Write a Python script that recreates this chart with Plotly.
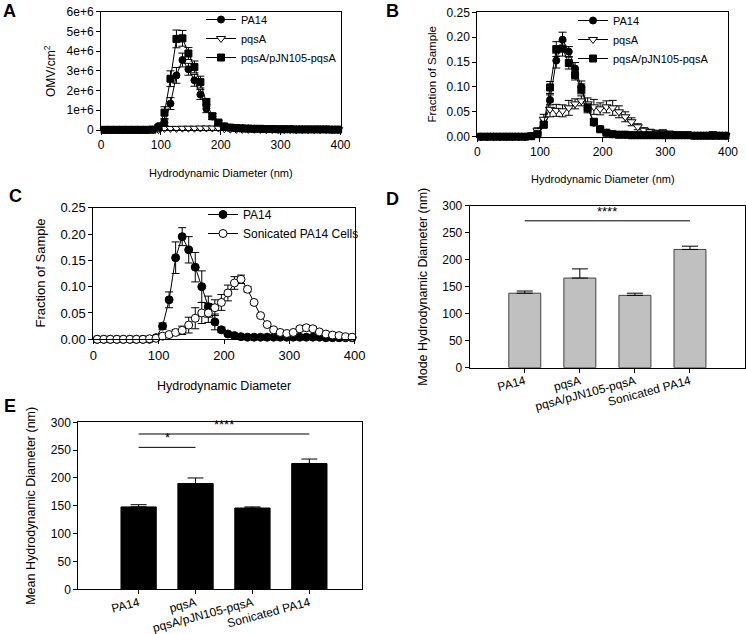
import plotly.graph_objects as go

W, H = 746, 634
FONT = "Liberation Sans, Arial, sans-serif"

# ---------------- data ----------------
diam = [6, 16, 26, 36, 46, 56, 66, 76, 86, 96,
        106, 116, 126, 136, 146, 156, 166, 176, 186, 196,
        206, 216, 226, 236, 246, 256, 266, 276, 286, 296,
        306, 316, 326, 336, 346, 356, 366, 376, 386, 396]

# Panel A (OMV/cm^2)
a_pa14 = [0, 0, 0, 0, 0, 0, 0, 0, 0.02e6, 0.2e6,
          0.37e6, 1.34e6, 2.77e6, 3.55e6, 3.08e6, 2.52e6, 1.8e6, 1.08e6, 0.68e6, 0.35e6,
          0.18e6, 0.12e6, 0.1e6, 0.09e6, 0.08e6, 0.07e6, 0.06e6, 0.05e6, 0.05e6, 0.04e6,
          0.04e6, 0.04e6, 0.03e6, 0.03e6, 0.03e6, 0.03e6, 0.03e6, 0.03e6, 0.02e6, 0.02e6]
a_pa14_err = [0, 0, 0, 0, 0, 0, 0, 0, 0, 0.05e6,
              0.15e6, 0.3e6, 0.4e6, 0.35e6, 0.3e6, 0.3e6, 0.25e6, 0.2e6, 0.15e6, 0.1e6,
              0.05e6, 0.03e6, 0.02e6, 0.02e6, 0.02e6, 0.02e6, 0.02e6, 0.01e6, 0.01e6, 0.01e6,
              0.01e6, 0.01e6, 0.01e6, 0.01e6, 0.01e6, 0.01e6, 0.01e6, 0.01e6, 0.01e6, 0.01e6]
a_pqsa = [0, 0, 0, 0, 0, 0, 0, 0, 0, 0.02e6,
          0.08e6, 0.08e6, 0.08e6, 0.09e6, 0.09e6, 0.09e6, 0.1e6, 0.1e6, 0.1e6, 0.1e6,
          0.06e6, 0.04e6, 0.03e6, 0.03e6, 0.03e6, 0.03e6, 0.03e6, 0.02e6, 0.02e6, 0.02e6,
          0.02e6, 0.02e6, 0.02e6, 0.02e6, 0.02e6, 0.02e6, 0.02e6, 0.02e6, 0.02e6, 0.02e6]
a_pqsa_err = [0, 0, 0, 0, 0, 0, 0, 0, 0, 0.01e6,
              0.03e6, 0.03e6, 0.03e6, 0.03e6, 0.03e6, 0.03e6, 0.03e6, 0.03e6, 0.03e6, 0.03e6,
              0.02e6, 0.01e6, 0.01e6, 0.01e6, 0.01e6, 0.01e6, 0.01e6, 0.01e6, 0.01e6, 0.01e6,
              0.01e6, 0.01e6, 0.01e6, 0.01e6, 0.01e6, 0.01e6, 0.01e6, 0.01e6, 0.01e6, 0.01e6]
a_comp = [0.01e6, 0.01e6, 0.01e6, 0.01e6, 0.01e6, 0.01e6, 0.01e6, 0.01e6, 0.02e6, 0.12e6,
          0.88e6, 2.6e6, 4.62e6, 4.65e6, 3.88e6, 3.2e6, 2.43e6, 1.4e6, 0.7e6, 0.38e6,
          0.18e6, 0.12e6, 0.1e6, 0.08e6, 0.07e6, 0.06e6, 0.06e6, 0.05e6, 0.05e6, 0.04e6,
          0.04e6, 0.04e6, 0.03e6, 0.03e6, 0.03e6, 0.03e6, 0.03e6, 0.03e6, 0.02e6, 0.02e6]
a_comp_err = [0, 0, 0, 0, 0, 0, 0, 0, 0, 0.05e6,
              0.3e6, 0.4e6, 0.45e6, 0.4e6, 0.3e6, 0.3e6, 0.3e6, 0.2e6, 0.15e6, 0.1e6,
              0.05e6, 0.03e6, 0.02e6, 0.02e6, 0.02e6, 0.02e6, 0.02e6, 0.01e6, 0.01e6, 0.01e6,
              0.01e6, 0.01e6, 0.01e6, 0.01e6, 0.01e6, 0.01e6, 0.01e6, 0.01e6, 0.01e6, 0.01e6]

# Panel B (fraction of sample)
b_pa14 = [0, 0, 0, 0, 0, 0, 0, 0, 0.001, 0.008,
          0.028, 0.074, 0.153, 0.195, 0.171, 0.137, 0.1, 0.058, 0.028, 0.015,
          0.008, 0.005, 0.004, 0.004, 0.003, 0.003, 0.003, 0.003, 0.003, 0.003,
          0.003, 0.003, 0.003, 0.003, 0.002, 0.002, 0.002, 0.002, 0.002, 0.002]
b_pa14_err = [0, 0, 0, 0, 0, 0, 0, 0, 0, 0.003,
              0.006, 0.01, 0.015, 0.015, 0.01, 0.012, 0.012, 0.01, 0.006, 0.004,
              0.002, 0.001, 0.001, 0.001, 0.001, 0.001, 0.001, 0.001, 0.001, 0.001,
              0.001, 0.001, 0.001, 0.001, 0.001, 0.001, 0.001, 0.001, 0.001, 0.001]
b_pqsa = [0, 0, 0, 0, 0, 0, 0, 0, 0.002, 0.012,
          0.035, 0.055, 0.053, 0.052, 0.058, 0.066, 0.072, 0.066, 0.06, 0.056,
          0.06, 0.058, 0.05, 0.04, 0.03, 0.02, 0.013, 0.01, 0.008, 0.008,
          0.007, 0.005, 0.004, 0.004, 0.003, 0.003, 0.004, 0.005, 0.003, 0.002]
b_pqsa_err = [0, 0, 0, 0, 0, 0, 0, 0, 0.002, 0.006,
              0.01, 0.015, 0.012, 0.012, 0.015, 0.01, 0.01, 0.012, 0.015, 0.012,
              0.012, 0.015, 0.012, 0.01, 0.008, 0.006, 0.005, 0.005, 0.005, 0.006,
              0.004, 0.003, 0.003, 0.003, 0.002, 0.002, 0.003, 0.005, 0.002, 0.001]
b_comp = [0, 0, 0, 0, 0, 0, 0, 0, 0.001, 0.005,
          0.024, 0.099, 0.176, 0.177, 0.148, 0.124, 0.096, 0.058, 0.03, 0.015,
          0.008, 0.005, 0.004, 0.004, 0.003, 0.003, 0.003, 0.003, 0.003, 0.003,
          0.003, 0.003, 0.003, 0.003, 0.002, 0.002, 0.002, 0.002, 0.002, 0.002]
b_comp_err = [0, 0, 0, 0, 0, 0, 0, 0, 0, 0.003,
              0.006, 0.012, 0.015, 0.015, 0.012, 0.01, 0.01, 0.008, 0.006, 0.004,
              0.002, 0.001, 0.001, 0.001, 0.001, 0.001, 0.001, 0.001, 0.001, 0.001,
              0.001, 0.001, 0.001, 0.001, 0.001, 0.001, 0.001, 0.001, 0.001, 0.001]

# Panel C (fraction of sample)
c_pa14 = [0, 0, 0, 0, 0, 0, 0, 0, 0, 0.003,
          0.025, 0.075, 0.155, 0.195, 0.17, 0.137, 0.1, 0.062, 0.033, 0.018,
          0.01, 0.007, 0.005, 0.004, 0.004, 0.004, 0.004, 0.004, 0.004, 0.004,
          0.004, 0.004, 0.004, 0.004, 0.004, 0.003, 0.003, 0.003, 0.003, 0.003]
c_pa14_err = [0, 0, 0, 0, 0, 0, 0, 0, 0, 0.002,
              0.006, 0.015, 0.03, 0.017, 0.025, 0.028, 0.03, 0.02, 0.015, 0.005,
              0.002, 0.001, 0.001, 0.001, 0.001, 0.001, 0.001, 0.001, 0.001, 0.001,
              0.001, 0.001, 0.001, 0.001, 0.001, 0.001, 0.001, 0.001, 0.001, 0.001]
c_son = [0, 0, 0, 0, 0, 0, 0, 0, 0.001, 0.002,
         0.006, 0.009, 0.013, 0.017, 0.027, 0.04, 0.05, 0.05, 0.06, 0.07,
         0.088, 0.107, 0.114, 0.095, 0.07, 0.045, 0.028, 0.018, 0.013, 0.011,
         0.013, 0.02, 0.022, 0.02, 0.014, 0.01, 0.008, 0.007, 0.005, 0.004]
c_son_err = [0, 0, 0, 0, 0, 0, 0, 0, 0, 0.001,
             0.002, 0.003, 0.005, 0.008, 0.015, 0.02, 0.02, 0.018, 0.015, 0.015,
             0.015, 0.012, 0.008, 0.005, 0.003, 0.002, 0.002, 0.002, 0.002, 0.002,
             0.002, 0.004, 0.004, 0.004, 0.002, 0.002, 0.001, 0.001, 0.001, 0.001]

# Panels D and E (bar charts)
bar_cats = ["PA14", "pqsA", "pqsA/pJN105-pqsA", "Sonicated PA14"]
mode_diam = [138, 166, 134, 219]
mode_err = [4, 17, 4, 6]
mean_diam = [148, 190, 146, 226]
mean_err = [4, 10, 2, 8]

# significance brackets: (from category, to category, height, label)
d_sig = [("PA14", "Sonicated PA14", 272, "****")]
e_sig = [("PA14", "pqsA", 255, "*"), ("PA14", "Sonicated PA14", 279, "****")]

a_ticks = [0, 1e6, 2e6, 3e6, 4e6, 5e6, 6e6]
a_ticktext = ["0", "1e+6", "2e+6", "3e+6", "4e+6", "5e+6", "6e+6"]

# ---------------- helpers ----------------
def px_dom_x(x0, x1):
    return [x0 / W, x1 / W]

def px_dom_y(top, bottom):
    return [1 - bottom / H, 1 - top / H]

def err(arr):
    return dict(type="data", array=arr, visible=True, color="black", thickness=1, width=4)

fig = go.Figure()

def line_trace(x, y, e, name, symbol, fill, xa, ya, legend, size=7):
    fig.add_trace(go.Scatter(
        x=x, y=y, name=name, mode="lines+markers", error_y=err(e),
        line=dict(color="black", width=1),
        marker=dict(symbol=symbol, size=size, color=fill, line=dict(color="black", width=1)),
        xaxis=xa, yaxis=ya, legend=legend, cliponaxis=False))

# Panel A
line_trace(diam, a_pa14, a_pa14_err, "PA14", "circle", "black", "x", "y", "legend")
line_trace(diam, a_pqsa, a_pqsa_err, "pqsA", "triangle-down", "white", "x", "y", "legend", 8)
line_trace(diam, a_comp, a_comp_err, "pqsA/pJN105-pqsA", "square", "black", "x", "y", "legend")
# Panel B
line_trace(diam, b_pa14, b_pa14_err, "PA14", "circle", "black", "x2", "y2", "legend2")
line_trace(diam, b_pqsa, b_pqsa_err, "pqsA", "triangle-down", "white", "x2", "y2", "legend2", 8)
line_trace(diam, b_comp, b_comp_err, "pqsA/pJN105-pqsA", "square", "black", "x2", "y2", "legend2")
# Panel C
line_trace(diam, c_pa14, c_pa14_err, "PA14", "circle", "black", "x3", "y3", "legend3", 8)
line_trace(diam, c_son, c_son_err, "Sonicated PA14 Cells", "circle", "white", "x3", "y3", "legend3", 8)

# Panel D
fig.add_trace(go.Bar(x=bar_cats, y=mode_diam, width=0.58, showlegend=False,
                     marker=dict(color="#c0c0c0", line=dict(color="#404040", width=1)),
                     error_y=dict(type="data", array=mode_err, symmetric=False, arrayminus=[0]*4,
                                  color="black", thickness=1, width=8),
                     xaxis="x4", yaxis="y4"))
# Panel E
fig.add_trace(go.Bar(x=bar_cats, y=mean_diam, width=0.62, showlegend=False,
                     marker=dict(color="black", line=dict(color="black", width=1)),
                     error_y=dict(type="data", array=mean_err, symmetric=False, arrayminus=[0]*4,
                                  color="black", thickness=1, width=8),
                     xaxis="x5", yaxis="y5"))


def ax(domain, anchor, rng, fsize=12, **kw):
    d = dict(domain=domain, anchor=anchor, range=rng, showline=True, mirror=True,
             linecolor="black", linewidth=1, ticks="outside", ticklen=4, tickcolor="black",
             showgrid=False, zeroline=False, automargin=False,
             tickfont=dict(family=FONT, size=fsize, color="black"))
    d.update(kw)
    return d

layout = dict(
    width=W, height=H, margin=dict(l=0, r=0, t=0, b=0, autoexpand=False),
    paper_bgcolor="white", plot_bgcolor="white", font=dict(family=FONT, color="black"),
    barmode="overlay", hovermode=False,
    xaxis=ax(px_dom_x(101, 340.5), "y", [0, 400], tickvals=[0, 100, 200, 300, 400]),
    yaxis=ax(px_dom_y(11.7, 130), "x", [0, 6e6], tickvals=a_ticks, ticktext=a_ticktext),
    xaxis2=ax(px_dom_x(477.3, 728), "y2", [0, 400], tickvals=[0, 100, 200, 300, 400]),
    yaxis2=ax(px_dom_y(12.3, 136.7), "x2", [0, 0.25],
              tickvals=[0, 0.05, 0.1, 0.15, 0.2, 0.25], tickformat=".2f"),
    xaxis3=ax(px_dom_x(93.3, 354.7), "y3", [0, 400], 13, tickvals=[0, 100, 200, 300, 400]),
    yaxis3=ax(px_dom_y(207.7, 339.3), "x3", [0, 0.25], 13,
              tickvals=[0, 0.05, 0.1, 0.15, 0.2, 0.25], tickformat=".2f"),
    xaxis4=ax(px_dom_x(469.7, 744.5), "y4", [-1.0, 3.99], 12, tickangle=-15, type="category",
              ticklabelstandoff=-3),
    yaxis4=ax(px_dom_y(205.7, 367.7), "x4", [0, 300], 12,
              tickvals=[0, 50, 100, 150, 200, 250, 300]),
    xaxis5=ax(px_dom_x(78.3, 361.7), "y5", [-1.06, 3.92], 12, tickangle=-15, type="category",
              ticklabelstandoff=-3),
    yaxis5=ax(px_dom_y(422.3, 589.3), "x5", [0, 300], 12,
              tickvals=[0, 50, 100, 150, 200, 250, 300]),
)

def leg(xpx, ytop, fsize=11):
    return dict(x=xpx / W, y=1 - ytop / H, xanchor="left", yanchor="top",
                bgcolor="rgba(0,0,0,0)", font=dict(family=FONT, size=fsize, color="black"),
                itemwidth=30, tracegroupgap=0, borderwidth=0)

layout["legend"] = leg(201, 5)
layout["legend2"] = leg(573, 6)
layout["legend3"] = leg(203, 200, 12)

fig.update_layout(**layout)

shapes = []
annots = []
# significance brackets
for xa, ya, sigs in (("x4", "y4", d_sig), ("x5", "y5", e_sig)):
    for c0, c1, h, lab in sigs:
        i0, i1 = bar_cats.index(c0), bar_cats.index(c1)
        shapes.append(dict(type="line", xref=xa, yref=ya, x0=i0, x1=i1, y0=h, y1=h,
                           line=dict(color="black", width=1)))
        annots.append(dict(xref=xa, yref=ya, x=(i0 + i1) / 2, y=h, text=lab, showarrow=False,
                           yanchor="bottom", font=dict(family=FONT, size=13, color="black")))

# axis titles (pixel-centred)
titles = [
    ("Hydrodynamic Diameter (nm)", 220.7, 173, 0, 11),
    ("OMV/cm<sup>2</sup>", 50, 71, -90, 12),
    ("Hydrodynamic Diameter (nm)", 602.6, 179, 0, 11),
    ("Fraction of Sample", 431, 74.5, -90, 11.5),
    ("Hydrodynamic Diameter", 224, 386, 0, 12.5),
    ("Fraction of Sample", 40, 273.5, -90, 13),
    ("Mode Hydrodynamic Diameter (nm)", 423, 286.7, -90, 12.5),
    ("Mean Hydrodynamic Diameter (nm)", 31, 505.8, -90, 12.5),
]
for txt, xp, yp, ang, fs in titles:
    annots.append(dict(xref="paper", yref="paper", x=xp / W, y=1 - yp / H, text=txt,
                       textangle=ang, showarrow=False, xanchor="center", yanchor="middle",
                       font=dict(family=FONT, size=fs, color="black")))

letters = [("A", 1, 11), ("B", 384, 11), ("C", 7, 196), ("D", 384, 199), ("E", 2, 406)]
for t, xp, yp in letters:
    annots.append(dict(xref="paper", yref="paper", x=xp / W, y=1 - yp / H, text="<b>%s</b>" % t,
                       showarrow=False, xanchor="left", yanchor="middle",
                       font=dict(family=FONT, size=18, color="black")))

fig.update_layout(shapes=shapes, annotations=annots)
fig.write_html("out.html", config={"displayModeBar": False},
               post_script="document.body.style.margin='0';document.body.style.overflow='hidden';")
